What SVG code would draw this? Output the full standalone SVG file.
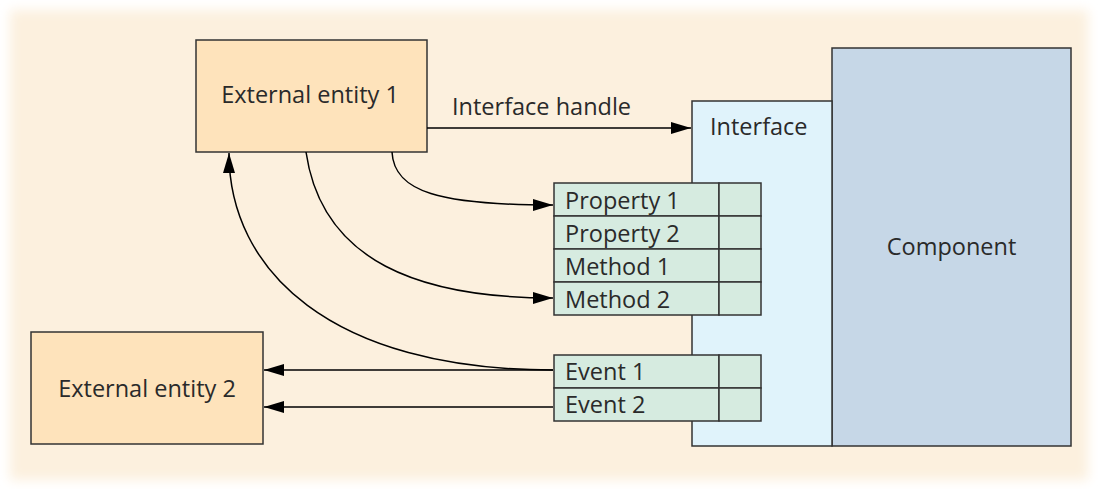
<svg xmlns="http://www.w3.org/2000/svg" width="1098" height="489" viewBox="0 0 1098 489">
  <defs>
    <filter id="soft" x="-5%" y="-5%" width="110%" height="110%">
      <feGaussianBlur stdDeviation="6"/>
    </filter>
    <marker id="arrow" markerUnits="userSpaceOnUse" markerWidth="20" markerHeight="12" refX="20" refY="6" orient="auto">
      <path d="M0,0 L20,6 L0,12 z" fill="#000"/>
    </marker>
  </defs>
  <style>
    .box { stroke: #333; stroke-width: 1.5; }
    .ent { fill: #fee3bb; }
    .iface { fill: #e0f3fb; }
    .comp { fill: #c6d7e7; }
    .cell { fill: #d6ebe0; stroke: #333; stroke-width: 1.5; }
    .lbl { font-family: "Open Sans", "Liberation Sans", sans-serif; font-size: 23.5px; fill: #2a2a2a; }
    .mid { text-anchor: middle; }
    .conn { fill: none; stroke: #000; stroke-width: 1.5; marker-end: url(#arrow); }
  </style>
  <rect width="1098" height="489" fill="#ffffff"/>
  <rect x="10" y="10" width="1078" height="470" fill="#fcf0de" filter="url(#soft)"/>

  <g id="component">
    <rect class="box comp" x="832" y="48" width="239" height="398"/>
    <text class="lbl mid" x="951.5" y="255">Component</text>
  </g>
  <g id="interface">
    <rect class="box iface" x="692" y="101" width="140" height="345"/>
    <text class="lbl" x="710" y="135">Interface</text>
  </g>
  <g id="members">
    <rect class="cell" x="554" y="183" width="165" height="33"/>
    <rect class="cell" x="719" y="183" width="42" height="33"/>
    <rect class="cell" x="554" y="216" width="165" height="33"/>
    <rect class="cell" x="719" y="216" width="42" height="33"/>
    <rect class="cell" x="554" y="249" width="165" height="33"/>
    <rect class="cell" x="719" y="249" width="42" height="33"/>
    <rect class="cell" x="554" y="282" width="165" height="33"/>
    <rect class="cell" x="719" y="282" width="42" height="33"/>
    <text class="lbl" x="565" y="209">Property 1</text>
    <text class="lbl" x="565" y="242">Property 2</text>
    <text class="lbl" x="565" y="275">Method 1</text>
    <text class="lbl" x="565" y="308">Method 2</text>
  </g>
  <g id="events">
    <rect class="cell" x="554" y="355" width="165" height="33"/>
    <rect class="cell" x="719" y="355" width="42" height="33"/>
    <rect class="cell" x="554" y="388" width="165" height="33"/>
    <rect class="cell" x="719" y="388" width="42" height="33"/>
    <text class="lbl" x="565" y="380">Event 1</text>
    <text class="lbl" x="565" y="413">Event 2</text>
  </g>
  <g id="entity1">
    <rect class="box ent" x="196" y="40" width="231" height="112"/>
    <text class="lbl mid" x="310" y="103">External entity 1</text>
  </g>
  <g id="entity2">
    <rect class="box ent" x="31" y="332" width="232" height="112"/>
    <text class="lbl mid" x="147" y="397">External entity 2</text>
  </g>

  <g id="connectors">
    <path class="conn" d="M427,128 L691,128"/>
    <text class="lbl" x="452" y="115">Interface handle</text>
    <path class="conn" d="M392,152 C394,192 440,205 553,205"/>
    <path class="conn" d="M306,152 C322,262 420,298 553,298"/>
    <path class="conn" d="M553,370 C330,370 229,270 229,153"/>
    <path class="conn" d="M553,370 L264,370"/>
    <path class="conn" d="M553,407 L264,407"/>
  </g>
</svg>
